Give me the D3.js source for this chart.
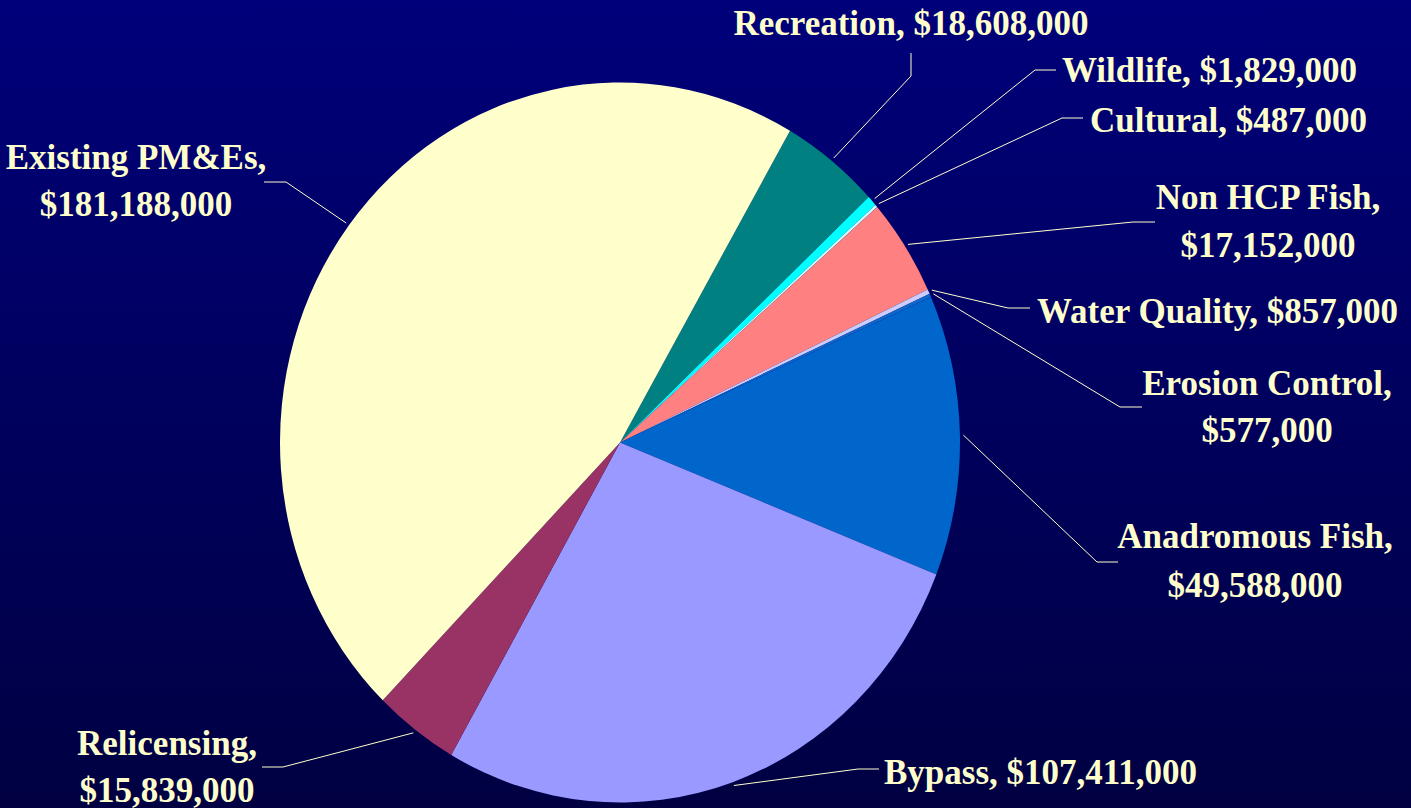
<!DOCTYPE html>
<html>
<head>
<meta charset="utf-8">
<script src="https://cdn.jsdelivr.net/npm/d3@7"></script>
<style>
    html, body { margin: 0; padding: 0; overflow: hidden; }
    svg { display: block; }
</style>
</head>
<body>
<svg id="chart"></svg>
<script>
// slices, clockwise from the Recreation slice
const categories = ['Recreation', 'Wildlife', 'Cultural', 'Non HCP Fish', 'Water Quality',
    'Erosion Control', 'Anadromous Fish', 'Bypass', 'Relicensing', 'Existing PM&Es'];
const values = [18608000, 1829000, 487000, 17152000, 857000,
    577000, 49588000, 107411000, 15839000, 181188000];
const sliceColors = ['#008080', '#00FFFF', '#CCFFFF', '#FF8080', '#CCCCFF',
    '#1166CC', '#0066CC', '#9999FF', '#993366', '#FFFFCC'];

// label placement: elbow of the leader, end of the leader, text anchor, baselines
const labelLayout = [
    { elbow: [911, 76], end: [911, 53], anchor: 'middle', x: 911, lines: [35], split: false },
    { elbow: [1035, 70], end: [1056, 70], anchor: 'start', x: 1062, lines: [82], split: false },
    { elbow: [1062, 118], end: [1083, 118], anchor: 'start', x: 1090, lines: [132], split: false },
    { elbow: [1133, 222], end: [1155, 222], anchor: 'middle', x: 1268, lines: [209, 257], split: true },
    { elbow: [1008, 308], end: [1030, 308], anchor: 'start', x: 1037, lines: [323], split: false },
    { elbow: [1120, 407], end: [1142, 407], anchor: 'middle', x: 1267, lines: [395, 442], split: true },
    { elbow: [1097, 562], end: [1118, 562], anchor: 'middle', x: 1255, lines: [548, 597], split: true },
    { elbow: [858, 769], end: [879, 769], anchor: 'start', x: 884, lines: [784], split: false },
    { elbow: [283, 767], end: [262, 767], anchor: 'middle', x: 167, lines: [755, 802], split: true },
    { elbow: [286, 182], end: [264, 182], anchor: 'middle', x: 136, lines: [169, 216], split: true }
];

class PieChart {
    constructor(_config) {
        this.config = {
            parentElement: _config.parentElement,
            containerWidth: 1411,
            containerHeight: 808,
            cx: 620,
            cy: 442.5,
            rx: 340,
            ry: 360,
            startAngle: 30 * Math.PI / 180,
            fontSize: 35,
            textColor: '#FFFFCC'
        };
        this.data = categories.map((c, i) => ({ category: c, value: values[i], color: sliceColors[i], layout: labelLayout[i] }));
        this.initVis();
    }

    initVis() {
        let vis = this;

        vis.svg = d3.select(vis.config.parentElement)
            .attr('width', vis.config.containerWidth)
            .attr('height', vis.config.containerHeight);

        // background gradient
        const grad = vis.svg.append('defs').append('linearGradient')
            .attr('id', 'bg')
            .attr('x1', 0).attr('y1', 0).attr('x2', 0).attr('y2', 1);
        grad.append('stop').attr('offset', '0%').attr('stop-color', '#00007A');
        grad.append('stop').attr('offset', '100%').attr('stop-color', '#000042');

        vis.svg.append('rect')
            .attr('width', vis.config.containerWidth)
            .attr('height', vis.config.containerHeight)
            .attr('fill', 'url(#bg)');

        vis.pie = d3.pie()
            .value(d => d.value)
            .sort(null)
            .startAngle(vis.config.startAngle)
            .endAngle(vis.config.startAngle + 2 * Math.PI);

        vis.arc = d3.arc()
            .innerRadius(0)
            .outerRadius(vis.config.rx);

        vis.chart = vis.svg.append('g')
            .attr('transform', `translate(${vis.config.cx},${vis.config.cy}) scale(1,${vis.config.ry / vis.config.rx})`);

        vis.updateVis();
    }

    updateVis() {
        let vis = this;
        const arcs = vis.pie(vis.data);

        vis.chart.selectAll('.slice')
            .data(arcs)
            .join('path')
            .attr('class', 'slice')
            .attr('d', vis.arc)
            .attr('fill', d => d.data.color);

        // point on the (elliptical) edge at the slice middle
        const edgePoint = d => {
            const a = (d.startAngle + d.endAngle) / 2;
            return [vis.config.cx + vis.config.rx * 1.01 * Math.sin(a),
                    vis.config.cy - vis.config.ry * 1.01 * Math.cos(a)];
        };

        vis.svg.selectAll('.leader')
            .data(arcs)
            .join('polyline')
            .attr('class', 'leader')
            .attr('fill', 'none')
            .attr('stroke', vis.config.textColor)
            .attr('stroke-width', 1)
            .attr('points', d => {
                const p = edgePoint(d);
                const l = d.data.layout;
                return [p, l.elbow, l.end].map(q => q.join(',')).join(' ');
            });

        const fmt = d3.format('$,');

        const labels = vis.svg.selectAll('.label')
            .data(arcs)
            .join('text')
            .attr('class', 'label')
            .attr('text-anchor', d => d.data.layout.anchor)
            .attr('fill', vis.config.textColor)
            .style('font-family', '"Liberation Serif", "Times New Roman", serif')
            .style('font-weight', 'bold')
            .style('font-size', vis.config.fontSize + 'px');

        labels.selectAll('tspan')
            .data(d => {
                const l = d.data.layout;
                const name = d.data.category + ',';
                const money = fmt(d.data.value);
                const texts = l.split ? [name, money] : [name + ' ' + money];
                return texts.map((t, i) => ({ t, x: l.x, y: l.lines[i] }));
            })
            .join('tspan')
            .attr('x', d => d.x)
            .attr('y', d => d.y)
            .text(d => d.t);
    }
}

new PieChart({ parentElement: '#chart' });
</script>
</body>
</html>
